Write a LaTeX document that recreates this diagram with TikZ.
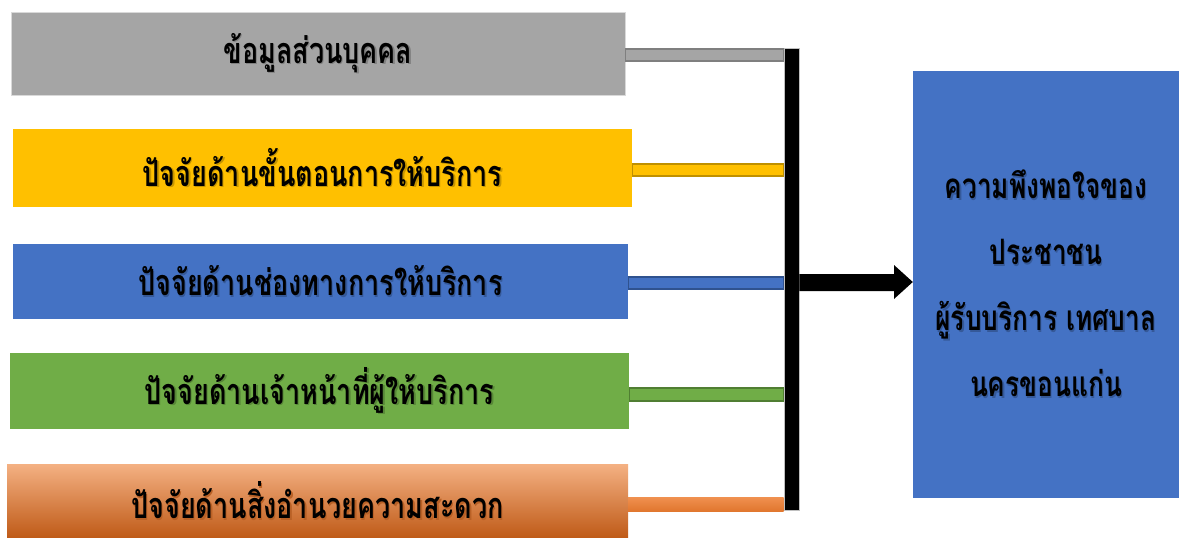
\documentclass[tikz,border=0pt]{standalone}
\usepackage{fontspec}
\newfontfamily\thai[Script=Thai,FakeStretch=0.75]{Loma}
\definecolor{cgray}{HTML}{A5A5A5}
\definecolor{cgrayd}{HTML}{7F7F7F}
\definecolor{cyel}{HTML}{FFC000}
\definecolor{cyeld}{HTML}{BF9000}
\definecolor{cblue}{HTML}{4472C4}
\definecolor{cblued}{HTML}{2F528F}
\definecolor{cgreen}{HTML}{70AD47}
\definecolor{cgreend}{HTML}{507E32}
\definecolor{corange}{HTML}{ED7D31}
\definecolor{corlight}{HTML}{F4B183}
\definecolor{cordark}{HTML}{BF5A17}
\newcommand\shd[2]{\makebox[0pt][l]{\raisebox{-1.3pt}{\hspace*{1.3pt}\textcolor{#1}{#2}}}#2}
\begin{document}
\begin{tikzpicture}[x=1pt,y=-1pt,
  box/.style={rectangle,inner sep=0pt,draw=none,font=\thai\bfseries\fontsize{36}{40}\selectfont,text=black},
  conn/.style={line width=1.4pt}]
\useasboundingbox (0,0) rectangle (1179,538);
\fill[white] (0,0) rectangle (1179,538);
% left boxes
\node[box,fill=cgray,draw=black!15,minimum width=614pt,minimum height=83pt] (b1) at (318,53.5) {\shd{black!22!cgray}{ข้อมูลส่วนบุคคล}};
\node[box,fill=cyel,minimum width=619pt,minimum height=78pt] (b2) at (322.5,168) {\shd{black!22!cyel}{ปัจจัยด้านขั้นตอนการให้บริการ}};
\node[box,fill=cblue,minimum width=615pt,minimum height=75pt] (b3) at (320.5,281.5) {\shd{black!22!cblue}{ปัจจัยด้านช่องทางการให้บริการ}};
\node[box,fill=cgreen,minimum width=619pt,minimum height=76pt] (b4) at (319.5,391) {\shd{black!22!cgreen}{ปัจจัยด้านเจ้าหน้าที่ผู้ให้บริการ}};
\node[box,top color=corlight,middle color=corange,bottom color=cordark,minimum width=621pt,minimum height=74pt] (b5) at (317.5,501) {\shd{black!22!corange}{ปัจจัยด้านสิ่งอำนวยความสะดวก}};
% vertical bar
\node[rectangle,inner sep=0pt,fill=black,draw=black!25,line width=0.6pt,minimum width=15pt,minimum height=462pt] (bar) at (791.5,279) {};
% right box
\node[box,fill=cblue,minimum width=266pt,minimum height=427pt,font=\thai\bfseries\fontsize{35}{66}\selectfont] (rb) at (1046,284.5) {%
\raisebox{5pt}{\begin{tabular}{@{}c@{}}\shd{black!22!cblue}{ความพึงพอใจของ}\\ \shd{black!22!cblue}{ประชาชน}\\ \shd{black!22!cblue}{ผู้รับบริการ เทศบาล}\\ \shd{black!22!cblue}{นครขอนแก่น}\end{tabular}}};
% connectors
\draw[conn,fill=cgray,draw=cgrayd] (b1.east |- 0,49) rectangle (bar.west |- 0,61);
\draw[conn,fill=cyel,draw=cyeld] (b2.east |- 0,164) rectangle (bar.west |- 0,176);
\draw[conn,fill=cblue,draw=cblued] (b3.east |- 0,277) rectangle (bar.west |- 0,289);
\draw[conn,fill=cgreen,draw=cgreend] (b4.east |- 0,388) rectangle (bar.west |- 0,401);
\shade[top color=corange!85!white,bottom color=corange!95!black] (b5.east |- 0,497) rectangle (bar.west |- 0,511);
% arrow
\fill[black] (bar.east |- 0,274) -- (894,274) -- (894,265) -- (rb.west |- 0,282) -- (894,299) -- (894,291) -- (bar.east |- 0,291) -- cycle;
\end{tikzpicture}
\end{document}
